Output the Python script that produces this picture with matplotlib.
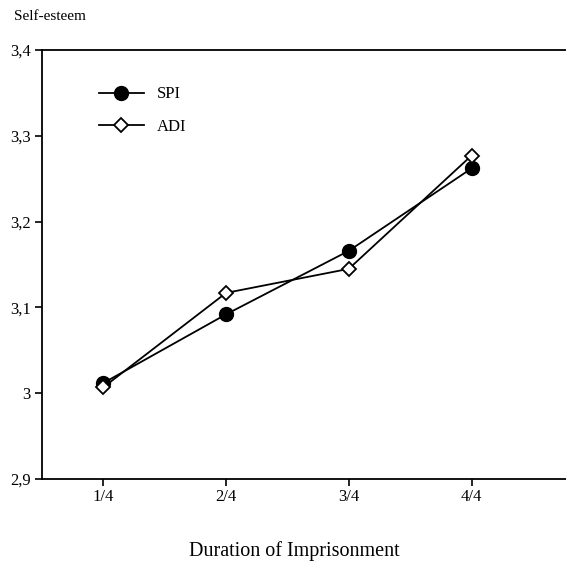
import matplotlib
matplotlib.use("Agg")
import matplotlib.pyplot as plt

# values
periods = ['1/4', '2/4', '3/4', '4/4']
spi = [3.012, 3.092, 3.166, 3.262]
adi = [3.007, 3.117, 3.145, 3.277]
yticks = [2.9, 3.0, 3.1, 3.2, 3.3, 3.4]
ylabels = ['2,9', '3', '3,1', '3,2', '3,3', '3,4']

plt.rcParams['font.family'] = ['Liberation Serif', 'DejaVu Serif']

fig = plt.figure(figsize=(5.66, 5.65), dpi=100)
ax = fig.add_axes([0.0742, 0.152, 0.9258, 0.7595])

x = list(range(1, len(periods) + 1))
ax.plot(x, spi, '-', color='black', lw=1.3, marker='o', ms=10,
        mfc='black', mec='black', label='SPI', zorder=3)
ax.plot(x, adi, '-', color='black', lw=1.3, marker='D', ms=7.5,
        mfc='white', mec='black', mew=1.3, label='ADI', zorder=4)

ax.set_xlim(0.5, 4.77)
ax.set_ylim(2.9, 3.4)
ax.set_xticks(x)
ax.set_xticklabels(periods, fontsize=12)
ax.set_yticks(yticks)
ax.set_yticklabels(ylabels, fontsize=12)
ax.spines['right'].set_visible(False)
for s in ['left', 'top', 'bottom']:
    ax.spines[s].set_linewidth(1.3)
ax.tick_params(direction='out', length=5, width=1.2, pad=3)
ax.tick_params(axis='x', pad=2)

ax.legend(loc='upper left', bbox_to_anchor=(0.08, 0.95), frameon=False,
          fontsize=12, handlelength=2.7, labelspacing=1.0, handletextpad=0.8)

fig.text(0.025, 0.982, 'Self-esteem', fontsize=11, va='top', ha='left')
fig.text(0.52, 0.025, 'Duration of Imprisonment', fontsize=14.5,
         ha='center', va='center')

fig.savefig('out.png', dpi=100)
